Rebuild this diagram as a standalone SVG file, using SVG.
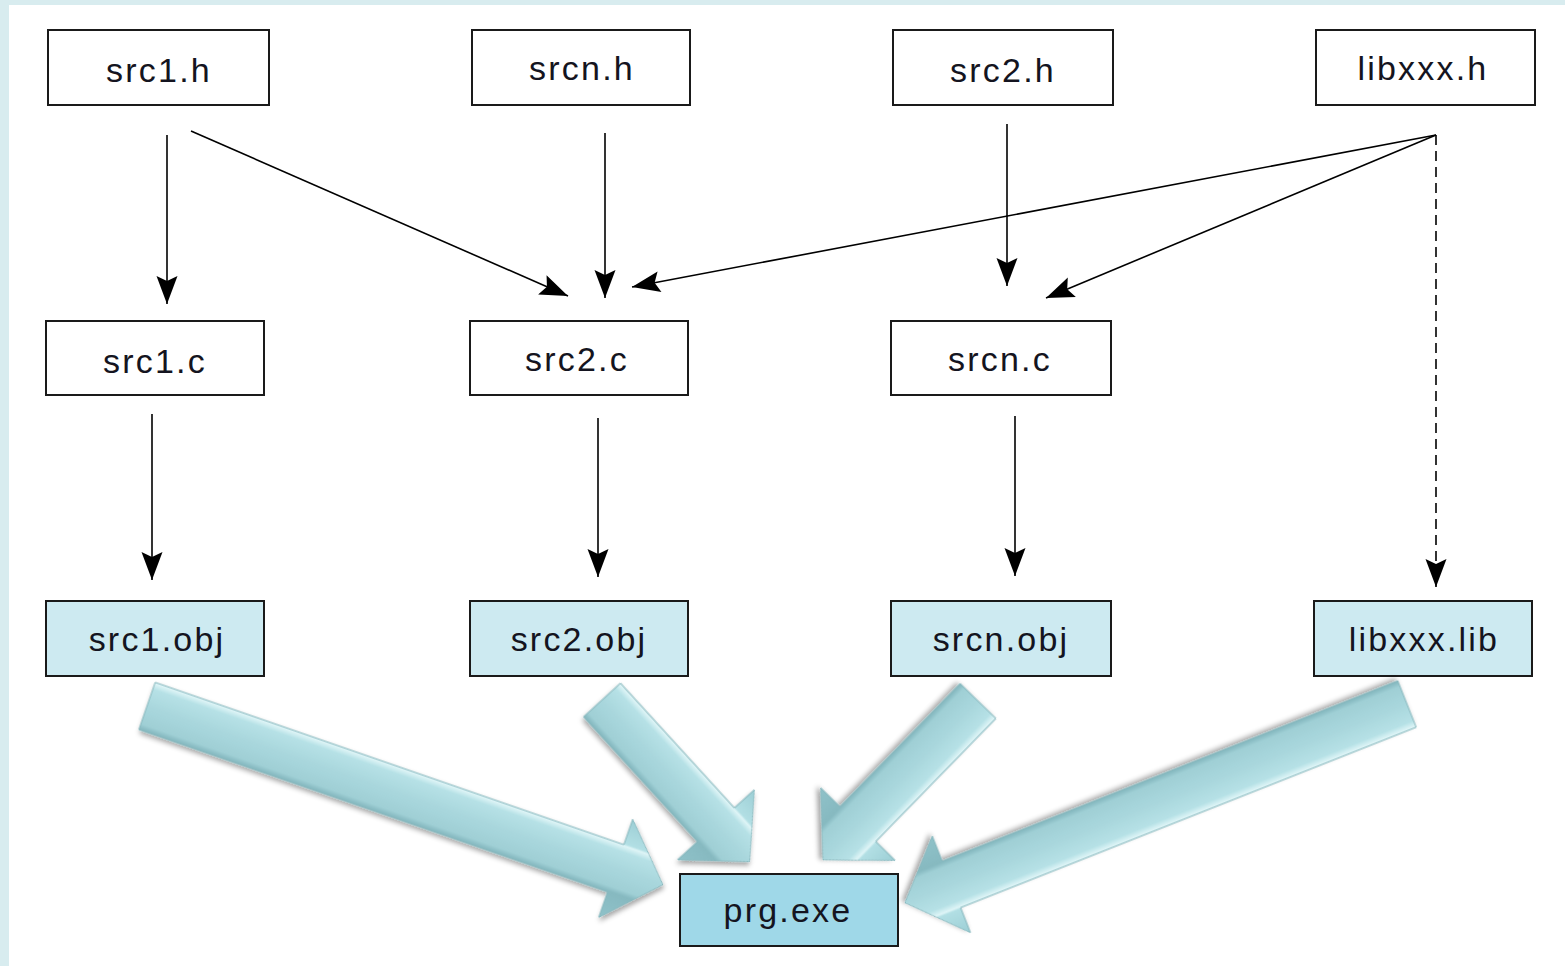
<svg xmlns="http://www.w3.org/2000/svg" width="1565" height="966" viewBox="0 0 1565 966">
  <style>
    .box { fill: #ffffff; stroke: #1a1a1a; stroke-width: 2; }
    .obj { fill: #cdeaf1; stroke: #1a1a1a; stroke-width: 2; }
    .exe { fill: #9fd8e8; stroke: #1a1a1a; stroke-width: 2; }
    .lbl { font-family: "Liberation Sans", Arial, sans-serif; font-size: 34px; letter-spacing: 2.2px; fill: #141420; text-anchor: middle; }
    .edge { stroke: #000; stroke-width: 1.6; fill: none; marker-end: url(#head); }
    .dash { stroke-dasharray: 10 6; }
    .big { fill: url(#bevel); stroke: #86b7bd; stroke-width: 1; filter: url(#shadow); }
  </style>
  <defs>
    <marker id="head" viewBox="-30 -12 32 24" refX="0" refY="0" markerWidth="32" markerHeight="24" markerUnits="userSpaceOnUse" orient="auto">
      <path d="M0,0 L-28,-10.5 L-23,0 L-28,10.5 Z" fill="#000"/>
    </marker>
    <!-- shading across the width of a block arrow, in its local frame -->
    <linearGradient id="bevel" gradientUnits="userSpaceOnUse" x1="0" y1="-52" x2="0" y2="52">
      <stop offset="0" stop-color="#9cced5"/>
      <stop offset="0.25" stop-color="#b2dfe4"/>
      <stop offset="0.27" stop-color="#dff5f7"/>
      <stop offset="0.33" stop-color="#b6e1e6"/>
      <stop offset="0.5" stop-color="#a9d7dd"/>
      <stop offset="0.68" stop-color="#9fcfd5"/>
      <stop offset="0.73" stop-color="#86b9c0"/>
      <stop offset="1" stop-color="#8fc2c9"/>
    </linearGradient>
    <filter id="shadow" x="-10%" y="-30%" width="120%" height="160%">
      <feDropShadow dx="2" dy="3" stdDeviation="2.5" flood-color="#000" flood-opacity="0.35"/>
    </filter>
  </defs>

  <!-- page background with light frame on the left and top -->
  <rect x="0" y="0" width="1565" height="966" fill="#ffffff"/>
  <rect x="0" y="0" width="9" height="966" fill="#d8ecef"/>
  <rect x="0" y="0" width="1565" height="5" fill="#d8ecef"/>

  <!-- dependency connectors -->
  <g id="connectors">
    <line class="edge" x1="167" y1="135" x2="167" y2="304"/>
    <line class="edge" x1="191" y1="131" x2="568" y2="296"/>
    <line class="edge" x1="605" y1="133" x2="605" y2="298"/>
    <line class="edge" x1="1436" y1="135" x2="632" y2="287"/>
    <line class="edge" x1="1007" y1="124" x2="1007" y2="286"/>
    <line class="edge" x1="1436" y1="135" x2="1046" y2="298"/>
    <line class="edge dash" x1="1436" y1="135" x2="1436" y2="587"/>
    <line class="edge" x1="152" y1="414" x2="152" y2="580"/>
    <line class="edge" x1="598" y1="418" x2="598" y2="577"/>
    <line class="edge" x1="1015" y1="416" x2="1015" y2="576"/>
  </g>

  <!-- header files -->
  <g id="src1_h"><rect class="box" x="48" y="30" width="221" height="75"/><text class="lbl" x="159" y="82">src1.h</text></g>
  <g id="srcn_h"><rect class="box" x="472" y="30" width="218" height="75"/><text class="lbl" x="582" y="80">srcn.h</text></g>
  <g id="src2_h"><rect class="box" x="893" y="30" width="220" height="75"/><text class="lbl" x="1003" y="82">src2.h</text></g>
  <g id="libxxx_h"><rect class="box" x="1316" y="30" width="219" height="75"/><text class="lbl" x="1423" y="80">libxxx.h</text></g>

  <!-- sources -->
  <g id="src1_c"><rect class="box" x="46" y="321" width="218" height="74"/><text class="lbl" x="155" y="373">src1.c</text></g>
  <g id="src2_c"><rect class="box" x="470" y="321" width="218" height="74"/><text class="lbl" x="577" y="371">src2.c</text></g>
  <g id="srcn_c"><rect class="box" x="891" y="321" width="220" height="74"/><text class="lbl" x="1000" y="371">srcn.c</text></g>

  <!-- objects and library -->
  <g id="src1_obj"><rect class="obj" x="46" y="601" width="218" height="75"/><text class="lbl" x="157" y="651">src1.obj</text></g>
  <g id="src2_obj"><rect class="obj" x="470" y="601" width="218" height="75"/><text class="lbl" x="579" y="651">src2.obj</text></g>
  <g id="srcn_obj"><rect class="obj" x="891" y="601" width="220" height="75"/><text class="lbl" x="1001" y="651">srcn.obj</text></g>
  <g id="libxxx_lib"><rect class="obj" x="1314" y="601" width="218" height="75"/><text class="lbl" x="1424" y="651">libxxx.lib</text></g>

  <!-- executable -->
  <g id="prg_exe"><rect class="exe" x="680" y="874" width="218" height="72"/><text class="lbl" x="788" y="922">prg.exe</text></g>

  <!-- link step: block arrows into the executable -->
  <g id="link_arrows">
    <path class="big" transform="translate(147,706) rotate(19.1)" d="M0,-25 L496,-25 L496,-52 L546,0 L496,52 L496,25 L0,25 Z"/>
    <path class="big" transform="translate(602,700) rotate(47.6)" d="M0,-25 L169,-25 L169,-52 L219,0 L169,52 L169,25 L0,25 Z"/>
    <path class="big" transform="translate(978,701) rotate(134.3)" d="M0,-25 L172,-25 L172,-52 L222,0 L172,52 L172,25 L0,25 Z"/>
    <path class="big" transform="translate(1407,704) rotate(158.4)" d="M0,-25 L490,-25 L490,-52 L540,0 L490,52 L490,25 L0,25 Z"/>
  </g>
</svg>
